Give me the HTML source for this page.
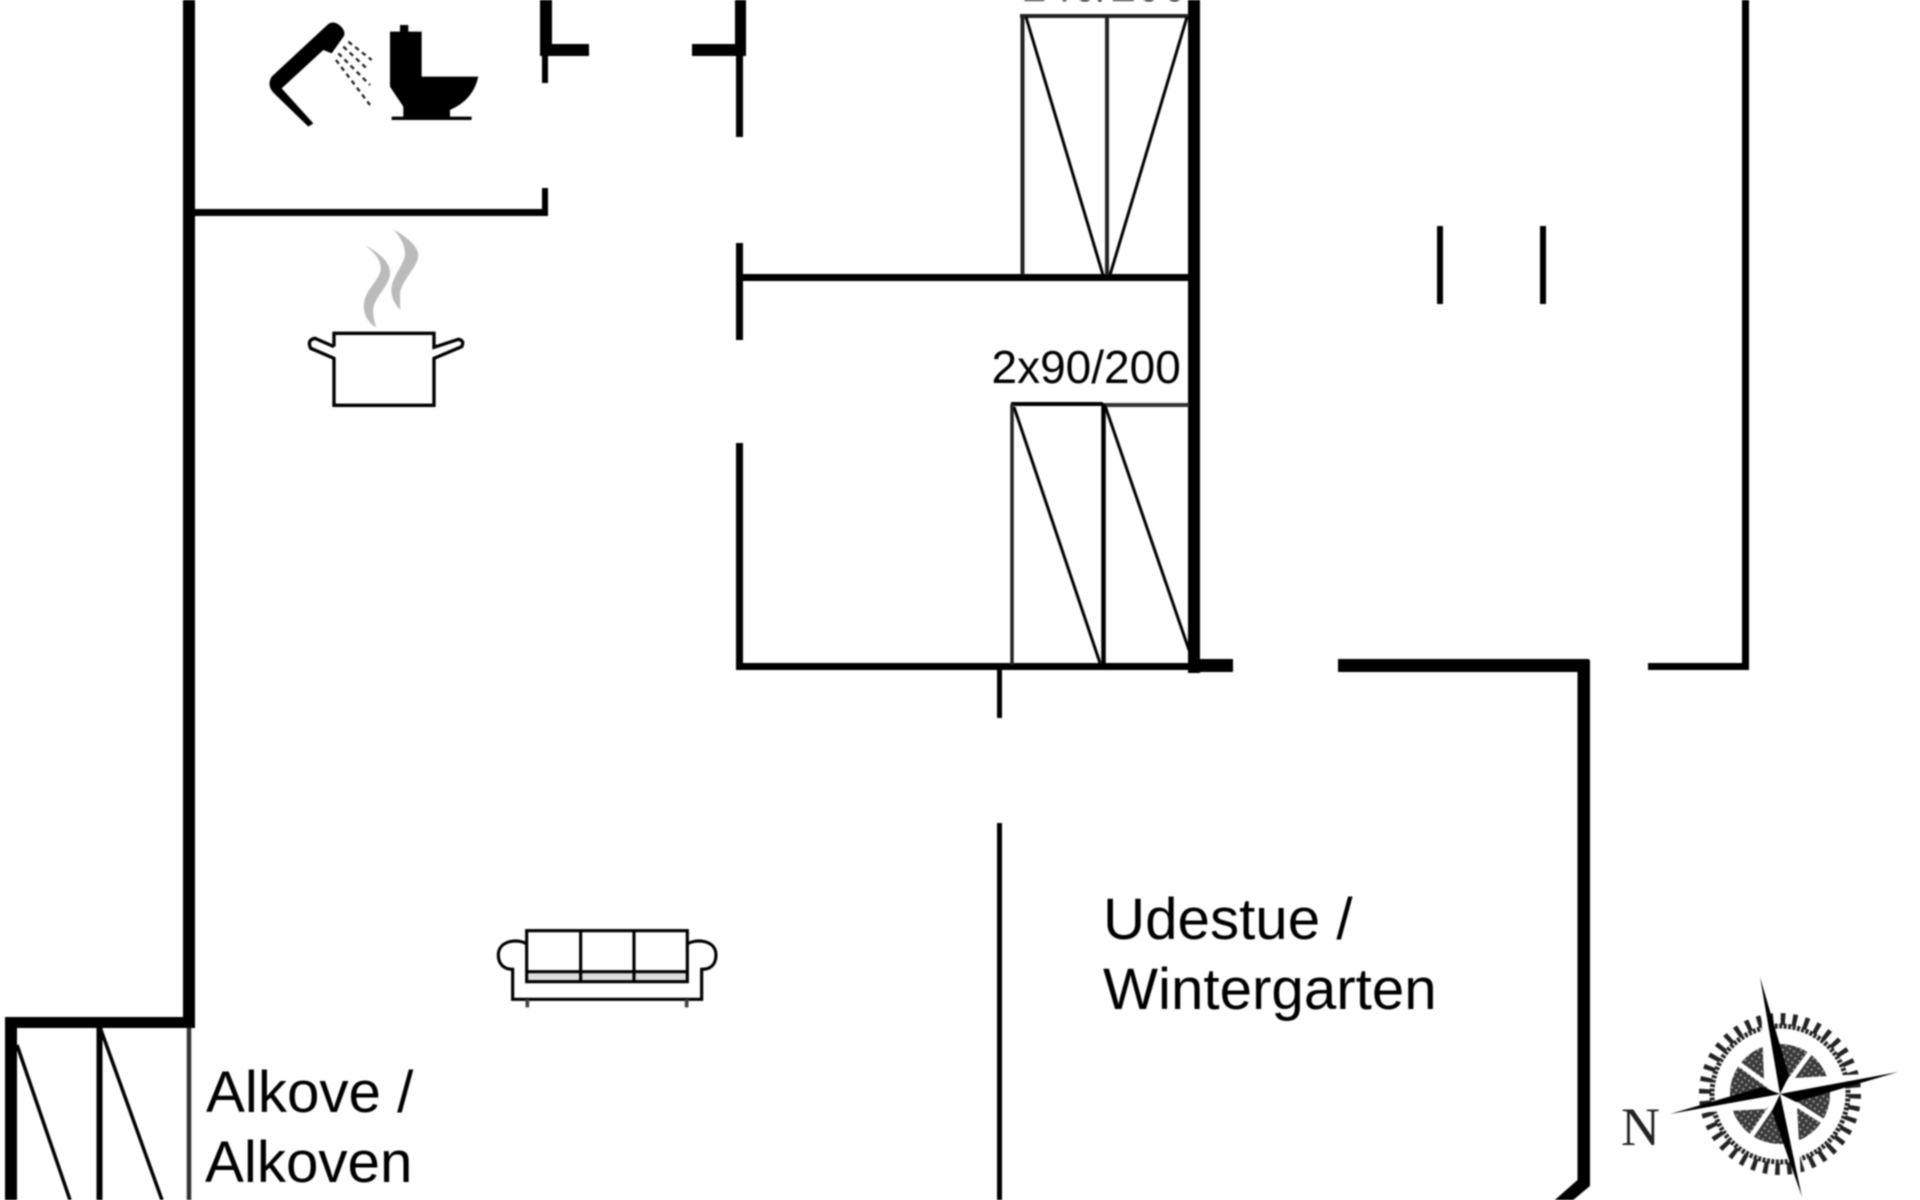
<!DOCTYPE html>
<html lang="da">
<head>
<meta charset="utf-8">
<title>Floor plan</title>
<style>
html,body{margin:0;padding:0;background:#fff;width:1920px;height:1200px;overflow:hidden}
svg{display:block;filter:blur(0.8px)}
text{font-family:"Liberation Sans",sans-serif;fill:#000}
</style>
</head>
<body>
<svg xmlns="http://www.w3.org/2000/svg" width="1920" height="1200" viewBox="0 0 1920 1200">
<defs>
  <pattern id="h" width="5" height="5" patternUnits="userSpaceOnUse" patternTransform="rotate(35)">
    <rect width="5" height="5" fill="#3a3a3a"/>
    <rect x="1" y="1" width="2" height="2" fill="#999"/>
  </pattern>
</defs>
<rect width="1920" height="1200" fill="#fff"/>

<!-- Thick walls -->
<g fill="#000">
  <rect x="183" y="0" width="12" height="1028"/>
  <rect x="5" y="1017" width="190" height="11"/>
  <rect x="5" y="1017" width="12" height="183"/>
  <rect x="540" y="0" width="12" height="56"/>
  <rect x="540" y="44" width="49" height="12"/>
  <rect x="735" y="0" width="11" height="56"/>
  <rect x="692" y="44" width="54" height="12"/>
  <rect x="1188" y="0" width="12" height="673"/>
  <rect x="1188" y="659" width="45" height="13"/>
  <rect x="1338" y="659" width="251" height="13"/>
  <path d="M1577.5 660H1590V1186L1566 1206H1548L1577.5 1180Z"/>
</g>

<!-- Medium walls -->
<g fill="#000">
  <rect x="195" y="209" width="353" height="7"/>
  <rect x="542" y="188" width="6" height="28"/>
  <rect x="542" y="50" width="6" height="33"/>
  <rect x="736" y="50" width="7" height="87"/>
  <rect x="736" y="243" width="7" height="97"/>
  <rect x="740" y="274" width="449" height="7"/>
  <rect x="736" y="443" width="7" height="227"/>
  <rect x="736" y="663" width="452" height="7"/>
  <rect x="1648" y="663" width="100" height="7"/>
  <rect x="1742" y="0" width="7" height="670"/>
  <rect x="1437" y="226" width="6" height="78"/>
  <rect x="1540" y="226" width="6" height="78"/>
  <rect x="997" y="668" width="5" height="50"/>
  <rect x="997" y="823" width="5" height="377"/>
</g>

<!-- Closet 140/200 -->
<g fill="none" stroke="#000">
  <path d="M1020 16H1189" stroke-width="4" stroke="#222"/>
  <path d="M1022.5 16V275M1107 16V275" stroke-width="4" stroke="#222"/>
  <path d="M1026 17L1103 275M1187 17L1110 275" stroke-width="3"/>
</g>

<!-- Closet 2x90/200 -->
<g fill="none" stroke="#000">
  <path d="M1011 404H1103" stroke-width="4"/>
  <path d="M1103 405H1189" stroke-width="4" stroke="#333"/>
  <path d="M1012 404V665" stroke-width="3.5" stroke="#222"/>
  <path d="M1103.5 404V665" stroke-width="4.5"/>
  <path d="M1014 407L1100 663M1105.5 407L1189 650" stroke-width="3"/>
</g>

<!-- Alcove closet -->
<g fill="none" stroke="#000">
  <path d="M99.5 1028V1200" stroke-width="6"/>
  <path d="M189 1028V1200" stroke-width="4.5" stroke="#333"/>
  <path d="M17 1045L70 1200M101 1030L162 1200" stroke-width="3.5"/>
</g>

<!-- Labels -->
<text x="1021" y="1" font-size="46">140/200</text>
<text x="991.5" y="383" font-size="46">2x90/200</text>
<text x="206" y="1112" font-size="58.3">Alkove /</text>
<text x="205" y="1182" font-size="58.3">Alkoven</text>
<text x="1103" y="939" font-size="58.3">Udestue /</text>
<text x="1103" y="1009" font-size="58.3">Wintergarten</text>

<!-- Shower -->
<g transform="translate(260,10) scale(.3333)">
  <path d="M205 42Q220 32 238 45Q258 62 252 78L215 130L190 120L65 235L160 340L145 350L40 248Q20 225 35 200Z" fill="#000"/>
  <g fill="none" stroke="#222" stroke-width="7" stroke-dasharray="14 12">
    <path d="M265 95L335 150M250 110L320 175M235 130L330 225M228 150L330 285"/>
  </g>
</g>

<!-- Toilet -->
<g transform="translate(260,10) scale(.3333)">
  <path d="M390 65H420V45H445V65H485V200H655Q640 270 570 300V320H635V330H395V320H430V290L390 230Z" fill="#000"/>
</g>

<!-- Pot and steam -->
<g transform="translate(290,220) scale(.3333)">
  <path d="M225 75C270 100 305 130 300 165C295 200 255 230 250 265C248 290 255 310 258 322C235 310 218 280 222 250C226 210 268 180 272 150C275 120 250 95 225 75Z" fill="#bbb"/>
  <path d="M310 28C350 50 385 80 385 105C385 140 335 180 330 220C330 240 330 260 332 270C315 255 300 230 305 200C310 165 345 130 345 100C345 75 330 50 310 28Z" fill="#bbb"/>
  <path d="M132 380V340H432V382L505 358Q525 362 515 380L432 415V556H132V415L62 385Q50 360 75 355L132 380" fill="none" stroke="#000" stroke-width="10"/>
</g>

<!-- Sofa -->
<g transform="translate(490,920) scale(.3333)">
  <rect x="110" y="160" width="482" height="24" fill="#ddd"/>
  <g fill="none" stroke="#000" stroke-width="9.5">
    <rect x="110" y="32" width="482" height="153"/>
    <path d="M272 32V185M432 32V185M110 155H592"/>
    <path d="M110 72C85 55 25 60 25 105C25 135 45 148 68 148V238H635V148C660 148 678 135 678 105C678 60 620 55 592 72"/>
  </g>
  <path d="M112 238V262M590 238V262" fill="none" stroke="#444" stroke-width="11"/>
</g>

<!-- Compass -->
<g transform="translate(1780,1094)">
  <circle r="75" fill="none" stroke="#222" stroke-width="12" stroke-dasharray="4.5 7.3"/>
  <circle r="68" fill="none" stroke="#222" stroke-width="5" stroke-dasharray="3 1.5"/>
  <circle r="50" fill="url(#h)"/>
  <g stroke="#fff" stroke-width="5" fill="none">
    <path d="M38 -52L0 0M-45 -33L0 0M-30 44L0 0M52 33L0 0"/>
  </g>
  <polygon points="-20,-117 -16,-14 0,0" fill="#fff"/>
  <polygon points="-20,-117 9,-18 0,0" fill="#000"/>
  <polygon points="22,103 17,12 0,0" fill="#fff"/>
  <polygon points="22,103 -8,17 0,0" fill="#000"/>
  <polygon points="118,-22 14,-16 0,0" fill="#fff"/>
  <polygon points="118,-22 16,8 0,0" fill="#000"/>
  <polygon points="-110,20 -14,15 0,0" fill="#fff"/>
  <polygon points="-110,20 -18,-7 0,0" fill="#000"/>
</g>
<text x="1621" y="1145" font-size="54" style="font-family:'Liberation Serif',serif;fill:#222">N</text>
</svg>
</body>
</html>
